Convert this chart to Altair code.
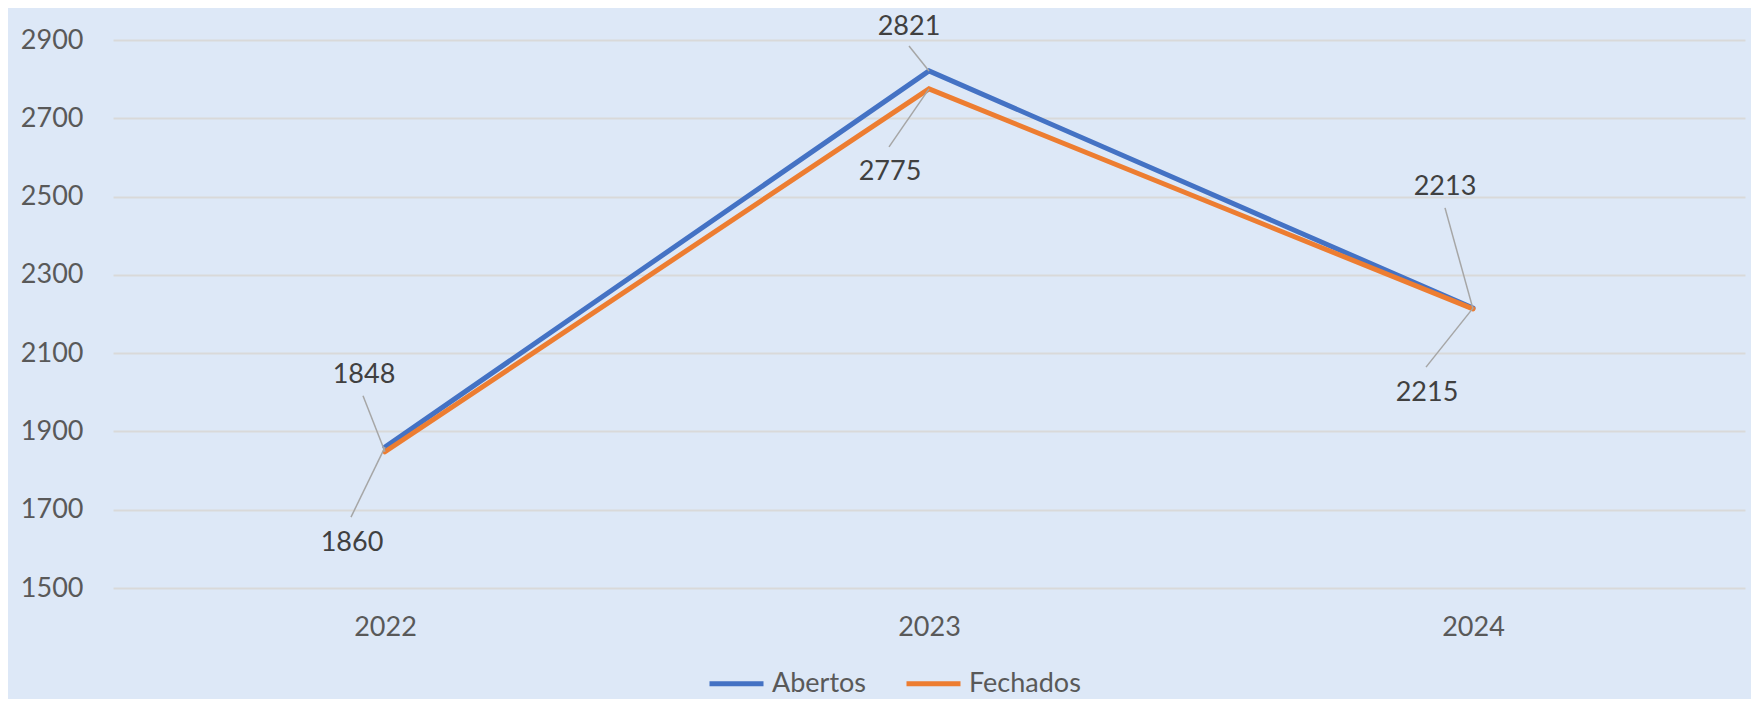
import altair as alt
import pandas as pd

# ---- data ----
years = [2022, 2023, 2024]
abertos = [1860, 2821, 2215]
fechados = [1848, 2775, 2213]
series_names = ["Abertos", "Fechados"]
series_colors = ["#4472C4", "#ED7D31"]
y_ticks = [1500, 1700, 1900, 2100, 2300, 2500, 2700, 2900]

# ---- layout constants ----
W, H = 1632, 548
X_DOMAIN = [2021.5, 2024.5]
Y_DOMAIN = [1500, 2900]
PX_X = W / (X_DOMAIN[1] - X_DOMAIN[0])
PX_Y = H / (Y_DOMAIN[1] - Y_DOMAIN[0])
FONT = "Lato"
FS = 27

# label placement (pixel offsets from the point): text centre, leader end
label_layout = {
    ("Fechados", 2022): (-21, -77, -22, -56),
    ("Abertos", 2022): (-33, 96, -34, 70),
    ("Abertos", 2023): (-20, -44, -20, -25),
    ("Fechados", 2023): (-39, 83, -40, 58),
    ("Fechados", 2024): (-28, -122, -28, -101),
    ("Abertos", 2024): (-46, 85, -47, 59),
}

rows = []
for name, vals in zip(series_names, [abertos, fechados]):
    for yr, v in zip(years, vals):
        rows.append({"year": yr, "value": v, "series": name})
df = pd.DataFrame(rows)

lab_rows = []
for r in rows:
    tdx, tdy, ldx, ldy = label_layout[(r["series"], r["year"])]
    lab_rows.append({
        "year": r["year"], "value": r["value"], "text": str(r["value"]),
        "tx": r["year"] + tdx / PX_X, "ty": r["value"] - tdy / PX_Y,
        "lx": r["year"] + ldx / PX_X, "ly": r["value"] - ldy / PX_Y,
    })
ldf = pd.DataFrame(lab_rows)

xscale = alt.Scale(domain=X_DOMAIN, nice=False, zero=False)
yscale = alt.Scale(domain=Y_DOMAIN, nice=False, zero=False)

lines = alt.Chart(df).mark_line(strokeWidth=5, strokeCap="round", strokeJoin="miter").encode(
    x=alt.X("year:Q", scale=xscale,
            axis=alt.Axis(values=years, format="d", title=None, grid=False, domain=False,
                          ticks=False, labelPadding=26, labelFontSize=FS, labelFont=FONT,
                          labelColor="#595959")),
    y=alt.Y("value:Q", scale=yscale,
            axis=alt.Axis(values=y_ticks, format="d", title=None, domain=False, ticks=False,
                          labelPadding=30, labelFontSize=FS, labelFont=FONT,
                          labelColor="#595959", gridColor="#D9D9D9", gridWidth=2)),
    color=alt.Color("series:N", scale=alt.Scale(domain=series_names, range=series_colors),
                    legend=alt.Legend(title=None, orient="none", direction="horizontal",
                                      legendX=594, legendY=614, symbolType="stroke",
                                      symbolSize=2916, symbolStrokeWidth=5,
                                      labelFontSize=FS, labelFont=FONT, labelColor="#595959",
                                      labelOffset=6, columnPadding=29)),
    order=alt.Order("year:Q"),
)

leaders = alt.Chart(ldf).mark_rule(color="#A6A6A6", strokeWidth=1.5).encode(
    x=alt.X("year:Q", scale=xscale),
    y=alt.Y("value:Q", scale=yscale),
    x2="lx:Q",
    y2="ly:Q",
)

labels = alt.Chart(ldf).mark_text(font=FONT, fontSize=FS, color="#404040",
                                  align="center", baseline="middle").encode(
    x=alt.X("tx:Q", scale=xscale),
    y=alt.Y("ty:Q", scale=yscale),
    text="text:N",
)

chart = alt.layer(lines, leaders, labels).properties(
    width=W, height=H,
    autosize=alt.AutoSizeParams(type="none"),
    padding={"left": 105, "top": 32, "right": 6, "bottom": 111},
    background="#DDE8F7",
).configure_view(stroke=None)

chart.save("out.html", embed_options={"renderer": "svg", "actions": False})
